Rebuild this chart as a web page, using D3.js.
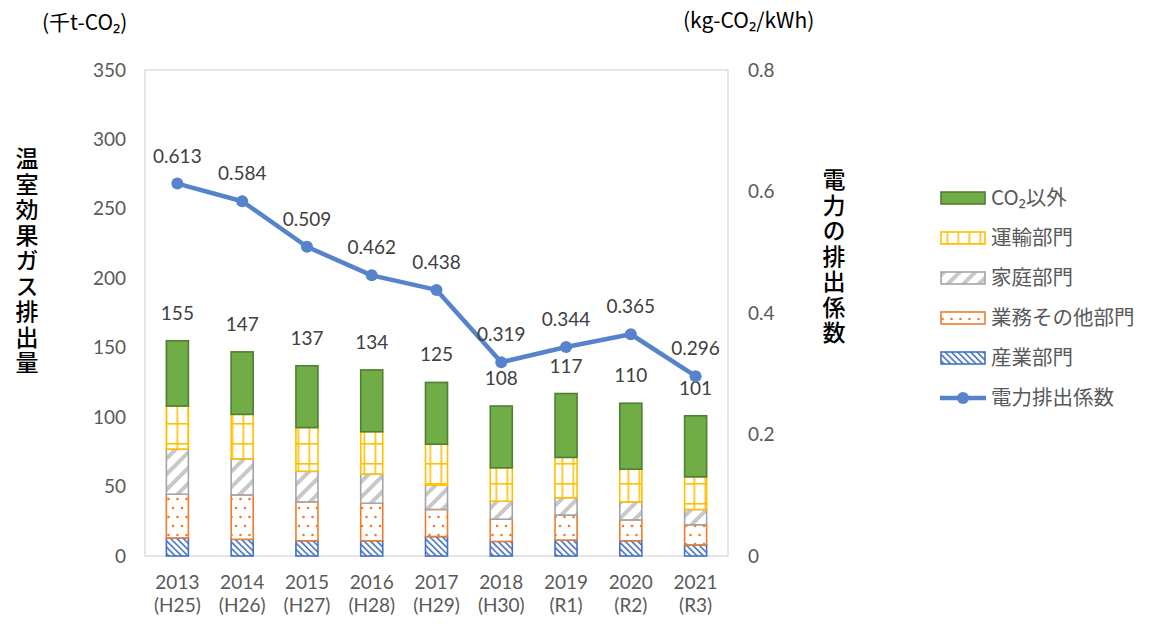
<!DOCTYPE html>
<html>
<head>
<meta charset="utf-8">
<script src="https://cdn.jsdelivr.net/npm/d3@7"></script>
<style>
  body { margin: 0; background: #fff; }
  text { font-family: "Noto Sans CJK JP", "Noto Sans", sans-serif; }
  text.num { font-family: Lato, "Noto Sans CJK JP", sans-serif; }
</style>
</head>
<body>
<svg id="chart" width="1150" height="626"></svg>
<script>
// data
const years = ['2013', '2014', '2015', '2016', '2017', '2018', '2019', '2020', '2021'];
const eras = ['(H25)', '(H26)', '(H27)', '(H28)', '(H29)', '(H30)', '(R1)', '(R2)', '(R3)'];

const industry = [13, 12, 11, 11, 14, 10.5, 11.5, 11, 8];
const business = [31.5, 32, 28, 27, 19.5, 16, 18, 15, 14.5];
const household = [32.5, 26, 22, 21, 17.5, 13, 12.5, 13, 11];
const transport = [31, 32, 31.5, 30.5, 29.5, 24, 29, 23.5, 23.5];
const nonCO2 = [47, 45, 44.5, 44.5, 44.5, 44.5, 46, 47.5, 44];
const totals = [155, 147, 137, 134, 125, 108, 117, 110, 101];
const factor = [0.613, 0.584, 0.509, 0.462, 0.438, 0.319, 0.344, 0.365, 0.296];

const leftTicks = [0, 50, 100, 150, 200, 250, 300, 350];
const rightTicks = [0, 0.2, 0.4, 0.6, 0.8];

const seriesKeys = ['industry', 'business', 'household', 'transport', 'nonCO2'];
const seriesNames = {
    industry: '産業部門',
    business: '業務その他部門',
    household: '家庭部門',
    transport: '運輸部門',
    nonCO2: 'CO₂以外'
};

const rows = years.map((y, i) => ({
    year: y,
    industry: industry[i],
    business: business[i],
    household: household[i],
    transport: transport[i],
    nonCO2: nonCO2[i]
}));

const svg = d3.select('#chart');
const plot = {left: 145, right: 728, top: 70, bottom: 556};
const numSize = 19;

var scale =
{
    x: d3.scaleBand().domain(years).range([plot.left, plot.right]).paddingInner(0.66).paddingOuter(0.33),
    y: d3.scaleLinear().domain([0, 350]).range([plot.bottom, plot.top]),
    y2: d3.scaleLinear().domain([0, 0.8]).range([plot.bottom, plot.top])
};

// patterns
const defs = svg.append('defs');

let p = defs.append('pattern').attr('id', 'pIndustry').attr('patternUnits', 'userSpaceOnUse')
    .attr('width', 4.5).attr('height', 4.5).attr('patternTransform', 'rotate(-45)');
p.append('rect').attr('width', 4.5).attr('height', 4.5).attr('fill', '#fff');
p.append('rect').attr('width', 1.6).attr('height', 4.5).attr('fill', '#4472c4');

p = defs.append('pattern').attr('id', 'pBusiness').attr('patternUnits', 'userSpaceOnUse')
    .attr('width', 9).attr('height', 18);
p.append('rect').attr('width', 9).attr('height', 18).attr('fill', '#fff');
p.append('circle').attr('cx', 2).attr('cy', 4).attr('r', 1.3).attr('fill', '#ed7d31');
p.append('circle').attr('cx', 6.5).attr('cy', 13).attr('r', 1.3).attr('fill', '#ed7d31');

p = defs.append('pattern').attr('id', 'pHousehold').attr('patternUnits', 'userSpaceOnUse')
    .attr('width', 11).attr('height', 11).attr('patternTransform', 'rotate(45)');
p.append('rect').attr('width', 11).attr('height', 11).attr('fill', '#fff');
p.append('rect').attr('width', 4).attr('height', 11).attr('fill', '#c8c8c8');

p = defs.append('pattern').attr('id', 'pTransport').attr('patternUnits', 'userSpaceOnUse')
    .attr('width', 11).attr('height', 20).attr('x', 0.5).attr('y', 3);
p.append('rect').attr('width', 11).attr('height', 20).attr('fill', '#fff');
p.append('rect').attr('width', 1.6).attr('height', 20).attr('fill', '#ffc000');
p.append('rect').attr('width', 11).attr('height', 1.6).attr('fill', '#ffc000');

const styles = {
    industry: {fill: 'url(#pIndustry)', stroke: '#4472c4'},
    business: {fill: 'url(#pBusiness)', stroke: '#ed7d31'},
    household: {fill: 'url(#pHousehold)', stroke: '#a5a5a5'},
    transport: {fill: 'url(#pTransport)', stroke: '#ffc000'},
    nonCO2: {fill: '#70ad47', stroke: '#507e32'}
};

// plot frame
svg.append('rect')
    .attr('x', plot.left).attr('y', plot.top)
    .attr('width', plot.right - plot.left).attr('height', plot.bottom - plot.top)
    .attr('fill', 'none').attr('stroke', '#d9d9d9').attr('stroke-width', 1.3);

// stacked bars
const stacked = d3.stack().keys(seriesKeys)(rows);

svg.append('g').selectAll('g')
    .data(stacked)
    .join('g')
    .attr('fill', d => styles[d.key].fill)
    .attr('stroke', d => styles[d.key].stroke)
    .attr('stroke-width', 1.6)
    .selectAll('rect')
    .data(d => d)
    .join('rect')
    .attr('x', d => scale.x(d.data.year))
    .attr('y', d => scale.y(d[1]))
    .attr('width', scale.x.bandwidth())
    .attr('height', d => scale.y(d[0]) - scale.y(d[1]));

// total labels
svg.append('g').selectAll('text')
    .data(totals)
    .join('text')
    .attr('class', 'num')
    .attr('x', (d, i) => scale.x(years[i]) + scale.x.bandwidth() / 2)
    .attr('y', d => scale.y(d) - 21)
    .attr('text-anchor', 'middle')
    .attr('font-size', numSize)
    .attr('fill', '#404040')
    .text(d => d);

// emission factor line
const lineColor = '#5683cc';
var lineGenerator = d3.line()
    .x((d, i) => scale.x(years[i]) + scale.x.bandwidth() / 2)
    .y(d => scale.y2(d));

svg.append('path')
    .attr('d', lineGenerator(factor))
    .attr('fill', 'none')
    .attr('stroke', lineColor)
    .attr('stroke-width', 4.5)
    .attr('stroke-linejoin', 'round');

svg.append('g').selectAll('circle')
    .data(factor)
    .join('circle')
    .attr('cx', (d, i) => scale.x(years[i]) + scale.x.bandwidth() / 2)
    .attr('cy', d => scale.y2(d))
    .attr('r', 6)
    .attr('fill', lineColor);

svg.append('g').selectAll('text')
    .data(factor)
    .join('text')
    .attr('class', 'num')
    .attr('x', (d, i) => scale.x(years[i]) + scale.x.bandwidth() / 2)
    .attr('y', d => scale.y2(d) - 21)
    .attr('text-anchor', 'middle')
    .attr('font-size', numSize)
    .attr('fill', '#404040')
    .text(d => d.toFixed(3));

// axes
const leftAxis = svg.append('g')
    .attr('transform', `translate(${plot.left - 19},0)`)
    .call(d3.axisLeft(scale.y).tickValues(leftTicks).tickSize(0).tickPadding(0));
const rightAxis = svg.append('g')
    .attr('transform', `translate(${plot.right + 20},0)`)
    .call(d3.axisRight(scale.y2).tickValues(rightTicks).tickSize(0).tickPadding(0).tickFormat(d => d === 0 ? '0' : d3.format('.1f')(d)));
const bottomAxis = svg.append('g')
    .attr('transform', `translate(0,${plot.bottom})`)
    .call(d3.axisBottom(scale.x).tickSize(0).tickPadding(0).tickFormat(''));

[leftAxis, rightAxis, bottomAxis].forEach(a => {
    a.select('.domain').remove();
    a.attr('font-family', null);
    a.selectAll('text').attr('class', 'num').attr('font-size', numSize).attr('fill', '#595959');
});

bottomAxis.selectAll('.tick').each(function(d, i) {
    const t = d3.select(this);
    t.append('text').attr('class', 'num').attr('y', 33).attr('text-anchor', 'middle')
        .attr('font-size', numSize).attr('fill', '#595959').text(d);
    t.append('text').attr('class', 'num').attr('y', 56).attr('text-anchor', 'middle')
        .attr('font-size', numSize).attr('fill', '#595959').text(eras[i]);
});

// units
svg.append('text').attr('x', 42).attr('y', 30).attr('font-size', 21).attr('fill', '#000').text('(千t-CO₂)');
svg.append('text').attr('x', 683).attr('y', 28).attr('font-size', 21).attr('fill', '#000').text('(kg-CO₂/kWh)');

// vertical axis titles
svg.append('text')
    .attr('x', 27).attr('y', 147)
    .style('writing-mode', 'vertical-rl')
    .attr('letter-spacing', 2.5)
    .attr('font-size', 23)
    .attr('font-weight', 500)
    .attr('fill', '#000')
    .text('温室効果ガス排出量');

svg.append('text')
    .attr('x', 834).attr('y', 168)
    .style('writing-mode', 'vertical-rl')
    .attr('letter-spacing', 2.5)
    .attr('font-size', 23)
    .attr('font-weight', 500)
    .attr('fill', '#000')
    .text('電力の排出係数');

// legend
const legendKeys = ['nonCO2', 'transport', 'household', 'business', 'industry'];
const legend = svg.append('g');
legendKeys.forEach((k, i) => {
    const y = 198 + i * 40;
    legend.append('rect')
        .attr('x', 941).attr('y', y - 6).attr('width', 44).attr('height', 12)
        .attr('fill', styles[k].fill).attr('stroke', styles[k].stroke).attr('stroke-width', 1.6);
    legend.append('text')
        .attr('x', 991).attr('y', y + 7).attr('font-size', 20.5).attr('fill', '#595959')
        .text(seriesNames[k]);
});
const ly = 198 + 5 * 40;
legend.append('line').attr('x1', 940).attr('x2', 986).attr('y1', ly).attr('y2', ly)
    .attr('stroke', lineColor).attr('stroke-width', 4.5);
legend.append('circle').attr('cx', 963).attr('cy', ly).attr('r', 6).attr('fill', lineColor);
legend.append('text').attr('x', 991).attr('y', ly + 7).attr('font-size', 20.5).attr('fill', '#595959')
    .text('電力排出係数');
</script>
</body>
</html>
